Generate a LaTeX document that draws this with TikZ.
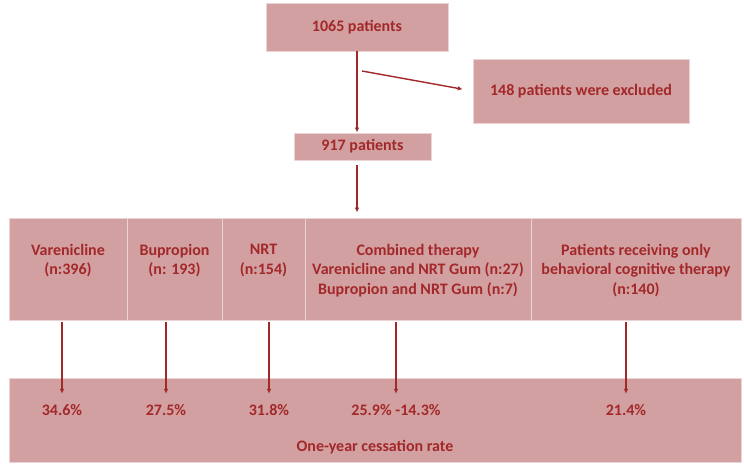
\documentclass[tikz,border=0pt]{standalone}
\usepackage{fontspec}
\setmainfont{Carlito}
\usepackage{tikz}
\usetikzlibrary{arrows.meta}
\definecolor{rosefill}{RGB}{210,160,161}
\definecolor{roseedge}{RGB}{236,212,212}
\definecolor{wine}{RGB}{163,40,42}

\begin{document}
\begin{tikzpicture}[x=1pt,y=-1pt,
  every node/.style={font=\fontsize{16}{19.5}\selectfont\bfseries,text=wine},
  box/.style={rectangle,draw=roseedge,line width=0.8pt,fill=rosefill,inner sep=0pt},
  lbl/.style={align=center,anchor=north,inner sep=0pt},
  arr/.style={draw=wine,line width=1.4pt,-{Latex[length=5pt,width=4.5pt]}}]
\useasboundingbox (0,0) rectangle (744,466);
\node[box,minimum width=182pt,minimum height=48pt] (total) at (357,27) {1065 patients};
\node[box,minimum width=216pt,minimum height=64pt] (excl) at (581,91) {148 patients were excluded};
\node[box,minimum width=137pt,minimum height=27pt] (incl) at (362.5,146.5) {917 patients};
\coordinate (split) at (362,71);
\node[box,minimum width=118pt,minimum height=102pt] (var) at (68,269) {};
\node[box,minimum width=95pt,minimum height=102pt] (bup) at (174.5,269) {};
\node[box,minimum width=83pt,minimum height=102pt] (nrt) at (263.5,269) {};
\node[box,minimum width=226pt,minimum height=102pt] (comb) at (418,269) {};
\node[box,minimum width=210pt,minimum height=102pt] (cbt) at (636,269) {};
\node[lbl] (vartxt) at (68,244) {Varenicline\\(n:396)};
\node[lbl] (buptxt) at (174.5,244) {Bupropion\\(n: 193)};
\node[lbl] (nrttxt) at (263.5,244) {NRT\\(n:154)};
\node[lbl] (combtxt) at (418,244) {Combined therapy\\Varenicline and NRT Gum (n:27)\\Bupropion and NRT Gum (n:7)};
\node[lbl] (cbttxt) at (636,244) {Patients receiving only\\behavioral cognitive therapy\\(n:140)};
\node[box,minimum width=732pt,minimum height=84pt] (rate) at (375,420) {};
\node (rvar) at (62,410) {34.6\%};
\node (rbup) at (166,410) {27.5\%};
\node (rnrt) at (269,410) {31.8\%};
\node (rcomb) at (396,410) {25.9\% -14.3\%};
\node (rcbt) at (626,410) {21.4\%};
\node (ratetxt) at (375,447) {One-year cessation rate};
\draw[arr] (total.south) -- (total.south |- incl.north);
\draw[arr,shorten >=10pt] (split) -- (excl.west);
\draw[arr,shorten <=5pt,shorten >=5pt] (total.south |- incl.south) -- (total.south |- comb.north);
\draw[arr,shorten <=2pt,shorten >=7pt] (var.south -| rvar) -- (rvar.north);
\draw[arr,shorten <=2pt,shorten >=7pt] (bup.south -| rbup) -- (rbup.north);
\draw[arr,shorten <=2pt,shorten >=7pt] (nrt.south -| rnrt) -- (rnrt.north);
\draw[arr,shorten <=2pt,shorten >=7pt] (comb.south -| rcomb) -- (rcomb.north);
\draw[arr,shorten <=2pt,shorten >=7pt] (cbt.south -| rcbt) -- (rcbt.north);
\end{tikzpicture}
\end{document}
